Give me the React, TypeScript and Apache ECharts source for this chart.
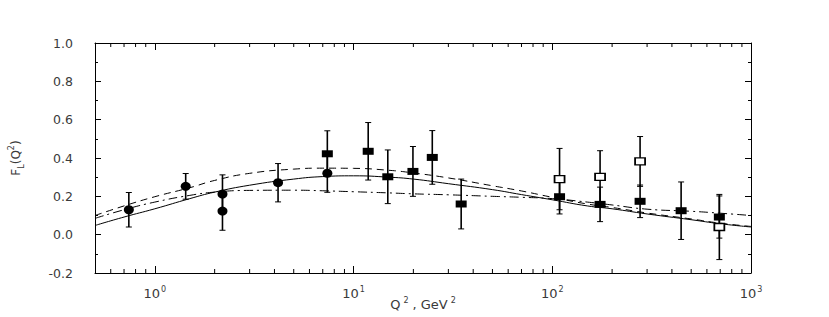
import React, { useEffect, useRef } from 'react';
import * as echarts from 'echarts';

// Filled circles
const circleQ2 = [0.74, 1.43, 2.19, 2.19, 4.17, 7.38];
const circleF = [0.130, 0.252, 0.212, 0.123, 0.271, 0.321];
const circleErr = [0.09, 0.067, 0.10, 0.10, 0.10, 0.10];

// Filled squares
const squareQ2 = [7.38, 11.85, 14.87, 19.9, 24.9, 34.8, 108.8, 174, 276.6, 445, 693];
const squareF = [0.422, 0.435, 0.302, 0.330, 0.403, 0.160, 0.198, 0.158, 0.174, 0.125, 0.092];
const squareErr = [0.12, 0.15, 0.14, 0.13, 0.14, 0.13, 0.09, 0.09, 0.085, 0.15, 0.11];

// Open squares
const openQ2 = [108.8, 174, 276.6, 693];
const openF = [0.290, 0.302, 0.382, 0.040];
const openErr = [0.16, 0.136, 0.13, 0.17];

// Curves
const curveQ2 = [0.5, 0.7, 1, 1.5, 2, 3, 5, 7, 10, 15, 20, 30, 50, 70, 100, 150, 200, 300, 500, 700, 1000];
const solidF = [0.048, 0.092, 0.135, 0.188, 0.222, 0.258, 0.290, 0.303, 0.307, 0.300, 0.290, 0.266, 0.235, 0.209, 0.182, 0.150, 0.135, 0.108, 0.078, 0.057, 0.040];
const dashedF = [0.100, 0.150, 0.198, 0.245, 0.283, 0.320, 0.342, 0.347, 0.346, 0.336, 0.322, 0.296, 0.255, 0.228, 0.195, 0.160, 0.142, 0.113, 0.082, 0.060, 0.043];
const dashDotF = [0.085, 0.130, 0.170, 0.205, 0.222, 0.231, 0.232, 0.229, 0.224, 0.218, 0.213, 0.208, 0.200, 0.195, 0.188, 0.170, 0.155, 0.133, 0.122, 0.112, 0.100];

// Axis
const xMin = 0.5;
const xMax = 1000;
const yMin = -0.2;
const yMax = 1.0;
const yStep = 0.2;
const minorQ2 = [0.6, 0.7, 0.8, 0.9, 2, 3, 4, 5, 6, 7, 8, 9, 20, 30, 40, 50, 60, 70, 80, 90, 200, 300, 400, 500, 600, 700, 800, 900];

const FONT = 'DejaVu Sans, Liberation Sans, sans-serif';

function errData(xs: number[], ys: number[], es: number[]) {
  return xs.map((x, i) => [x, ys[i] - es[i], ys[i] + es[i]]);
}

function errorSeries(data: number[][]) {
  return {
    type: 'custom',
    z: 2,
    data,
    encode: { x: 0, y: [1, 2] },
    renderItem: (_p: any, api: any) => {
      const x = api.value(0);
      const lo = api.value(1);
      const hi = api.value(2);
      const t = api.coord([x, hi]);
      const b = api.coord([x, lo]);
      const cap = 3;
      return {
        type: 'group',
        children: [
          { type: 'line', shape: { x1: t[0], y1: t[1], x2: b[0], y2: b[1] }, style: { stroke: '#000', lineWidth: 1.6 } },
          { type: 'line', shape: { x1: t[0] - cap, y1: t[1], x2: t[0] + cap, y2: t[1] }, style: { stroke: '#000', lineWidth: 1 } },
          { type: 'line', shape: { x1: b[0] - cap, y1: b[1], x2: b[0] + cap, y2: b[1] }, style: { stroke: '#000', lineWidth: 1 } },
        ],
      };
    },
  };
}

export default function App() {
  const ref = useRef<HTMLDivElement>(null);
  useEffect(() => {
    const chart = echarts.init(ref.current!, null, { renderer: 'svg' });
    const textColor = '#3a3a3a';
    const axisLine = { show: true, onZero: false, lineStyle: { color: '#000', width: 1 } };
    const option: any = {
      animation: false,
      backgroundColor: '#fff',
      grid: { left: 95, right: 78, top: 43, bottom: 44, containLabel: false, outerBoundsMode: 'none' },
      xAxis: [
        {
          type: 'log',
          logBase: 10,
          min: xMin,
          max: xMax,
          name: '{a|Q}{p|2}{a|, GeV}{p|2}',
          nameLocation: 'middle',
          nameGap: 23,
          nameMoveOverlap: false,
          nameTextStyle: {
            color: textColor,
            fontFamily: FONT,
            rich: {
              a: { fontSize: 13, lineHeight: 17, fontFamily: FONT, color: textColor, padding: [0, 2, 0, 2] },
              p: { fontSize: 8, lineHeight: 8, verticalAlign: 'top', fontFamily: FONT, color: textColor, padding: [0, 2, 0, 1] },
            },
          },
          axisLine,
          axisTick: { show: true, inside: true, length: 7, lineStyle: { color: '#000' } },
          splitLine: { show: false },
          axisLabel: {
            showMinLabel: false,
            margin: 12,
            color: textColor,
            formatter: (v: number) => {
              const e = Math.round(Math.log10(v));
              return '{a|10}{p|' + String(e) + '}';
            },
            rich: {
              a: { fontSize: 13, lineHeight: 17, fontFamily: FONT, color: textColor, padding: [0, 1, 0, 0] },
              p: { fontSize: 8, lineHeight: 8, verticalAlign: 'top', fontFamily: FONT, color: textColor },
            },
          },
        },
        {
          type: 'log',
          logBase: 10,
          min: xMin,
          max: xMax,
          position: 'top',
          axisLine,
          axisTick: { show: true, inside: true, length: 7, lineStyle: { color: '#000' } },
          axisLabel: { show: false },
          splitLine: { show: false },
        },
      ],
      yAxis: [
        {
          type: 'value',
          min: yMin,
          max: yMax,
          interval: yStep,
          name: '{a|F}{s|L}{a|(Q}{p|2}{a|)}',
          nameLocation: 'middle',
          nameGap: 70,
          nameMoveOverlap: false,
          nameRotate: 90,
          nameTextStyle: {
            color: textColor,
            rich: {
              a: { fontSize: 12, lineHeight: 18, fontFamily: FONT, color: textColor },
              s: { fontSize: 8, lineHeight: 8, verticalAlign: 'bottom', fontFamily: FONT, color: textColor },
              p: { fontSize: 8, lineHeight: 8, verticalAlign: 'top', fontFamily: FONT, color: textColor },
            },
          },
          axisLine,
          axisTick: { show: true, inside: true, length: 6, lineStyle: { color: '#000' } },
          minorTick: { show: true, splitNumber: 2, length: 3, lineStyle: { color: '#000' } },
          splitLine: { show: false },
          axisLabel: {
            margin: 22,
            color: textColor,
            fontSize: 12.5,
            fontFamily: FONT,
            formatter: (v: number) => v.toFixed(1),
          },
        },
        {
          type: 'value',
          min: yMin,
          max: yMax,
          interval: yStep,
          position: 'right',
          axisLine,
          axisTick: { show: true, inside: true, length: 6, lineStyle: { color: '#000' } },
          minorTick: { show: true, splitNumber: 2, length: 3, lineStyle: { color: '#000' } },
          splitLine: { show: false },
          axisLabel: { show: false },
        },
      ],
      series: [
        {
          type: 'custom',
          z: 1,
          data: minorQ2.map((v) => [v, 0]),
          encode: { x: 0, y: 1 },
          silent: true,
          renderItem: (_p: any, api: any) => {
            const v = api.value(0);
            const b = api.coord([v, yMin]);
            const t = api.coord([v, yMax]);
            return {
              type: 'group',
              children: [
                { type: 'line', shape: { x1: b[0], y1: b[1], x2: b[0], y2: b[1] - 4 }, style: { stroke: '#000', lineWidth: 1 } },
                { type: 'line', shape: { x1: t[0], y1: t[1], x2: t[0], y2: t[1] + 4 }, style: { stroke: '#000', lineWidth: 1 } },
              ],
            };
          },
        },
        {
          type: 'line',
          z: 2,
          smooth: true,
          showSymbol: false,
          data: curveQ2.map((x, i) => [x, solidF[i]]),
          lineStyle: { color: '#000', width: 1 },
        },
        {
          type: 'line',
          z: 2,
          smooth: true,
          showSymbol: false,
          data: curveQ2.map((x, i) => [x, dashedF[i]]),
          lineStyle: { color: '#000', width: 1, type: [7, 5] },
        },
        {
          type: 'line',
          z: 2,
          smooth: true,
          showSymbol: false,
          data: curveQ2.map((x, i) => [x, dashDotF[i]]),
          lineStyle: { color: '#000', width: 1, type: [9, 4, 2, 4] },
        },
        errorSeries(errData(circleQ2, circleF, circleErr)),
        errorSeries(errData(squareQ2, squareF, squareErr)),
        errorSeries(errData(openQ2, openF, openErr)),
        {
          type: 'scatter',
          z: 4,
          symbol: 'circle',
          symbolSize: [10, 9],
          data: circleQ2.map((x, i) => [x, circleF[i]]),
          itemStyle: { color: '#000', opacity: 1 },
        },
        {
          type: 'scatter',
          z: 4,
          symbol: 'rect',
          symbolSize: [11, 7],
          data: squareQ2.map((x, i) => [x, squareF[i]]),
          itemStyle: { color: '#000', opacity: 1 },
        },
        {
          type: 'scatter',
          z: 4,
          symbol: 'rect',
          symbolSize: [10, 7],
          data: openQ2.map((x, i) => [x, openF[i]]),
          itemStyle: { color: '#fff', borderColor: '#000', borderWidth: 1.5, opacity: 1 },
        },
      ],
    };
    chart.setOption(option);
    return () => chart.dispose();
  }, []);
  return <div ref={ref} style={{ position: 'absolute', left: 0, top: 0, width: 829, height: 317 }} />;
}
